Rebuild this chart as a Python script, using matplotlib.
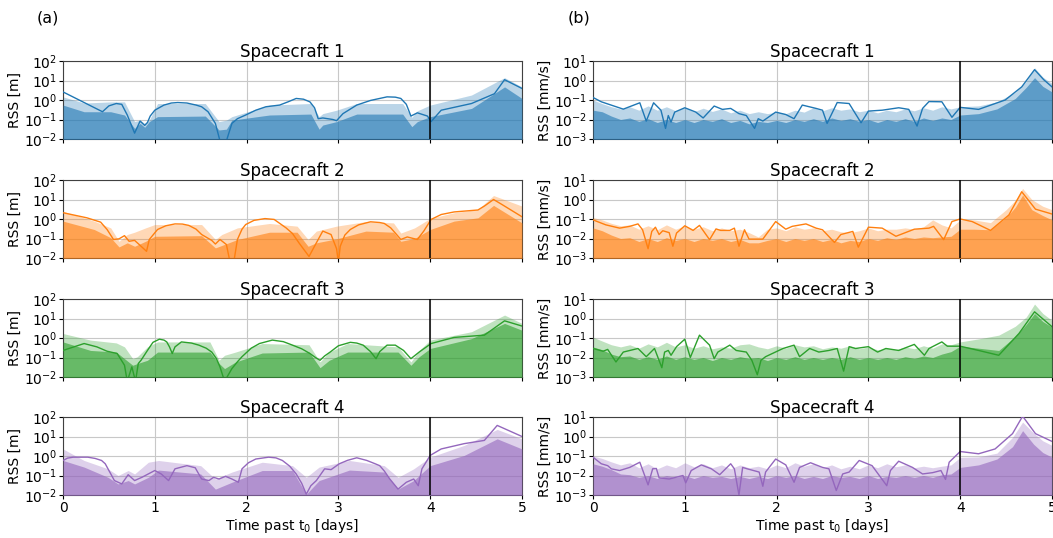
import matplotlib
matplotlib.use("Agg")
import matplotlib.pyplot as plt
from matplotlib.ticker import FixedLocator, NullLocator

colors = ["#1f77b4", "#ff7f0e", "#2ca02c", "#9467bd"]
titles = ["Spacecraft 1", "Spacecraft 2", "Spacecraft 3", "Spacecraft 4"]
x_ticks = [0, 1, 2, 3, 4, 5]
pos_ticks = [1e-2, 1e-1, 1e0, 1e1, 1e2]
vel_ticks = [1e-3, 1e-2, 1e-1, 1e0, 1e1]
t_cut = 4.0

# ---------------- position RSS [m] ----------------
pos1_t = [0, 0.43, 0.5, 0.58, 0.64, 0.7, 0.78, 0.84, 0.89, 0.92, 0.95, 1.0, 1.1, 1.18, 1.25, 1.35, 1.45,
          1.51, 1.58, 1.66, 1.71, 1.74, 1.78, 1.84, 1.9, 1.99, 2.1, 2.21, 2.36, 2.45, 2.54, 2.62, 2.69,
          2.74, 2.78, 2.83, 2.94, 2.98, 3.05, 3.2, 3.35, 3.53, 3.62, 3.68, 3.74, 3.79, 3.86, 3.97, 4.01,
          4.12, 4.45, 4.7, 4.81, 5.0]
pos1_err = [2.6, 0.25, 0.5, 0.66, 0.6, 0.17, 0.02, 0.083, 0.05, 0.07, 0.15, 0.3, 0.55, 0.7, 0.74, 0.7,
            0.55, 0.45, 0.25, 0.063, 0.008, 0.006, 0.008, 0.063, 0.11, 0.17, 0.3, 0.45, 0.55, 0.8, 1.2,
            1.1, 0.8, 0.4, 0.11, 0.12, 0.1, 0.087, 0.2, 0.55, 0.95, 1.45, 1.4, 1.2, 0.6, 0.15, 0.22, 0.15,
            0.078, 0.3, 0.66, 2.1, 11.0, 3.9]
pos1_band_t = [0, 0.23, 0.52, 0.67, 0.78, 0.84, 0.89, 0.94, 1.03, 1.55, 1.7, 1.78, 1.84, 2.25, 2.7,
               2.79, 2.83, 2.98, 3.2, 3.7, 3.8, 3.86, 4.0, 4.45, 4.81, 5.0]
pos1_sig1 = [0.55, 0.25, 0.25, 0.17, 0.035, 0.063, 0.04, 0.078, 0.14, 0.15, 0.029, 0.032, 0.093, 0.17,
             0.19, 0.032, 0.052, 0.078, 0.19, 0.19, 0.043, 0.078, 0.14, 0.37, 4.7, 1.2]
pos1_sig3 = [1.45, 0.7, 0.8, 0.8, 0.078, 0.093, 0.063, 0.093, 0.66, 0.66, 0.078, 0.093, 0.14, 0.55,
             0.66, 0.14, 0.2, 0.3, 0.66, 0.66, 0.13, 0.28, 0.55, 1.8, 14.0, 4.7]

pos2_t = [0, 0.26, 0.41, 0.48, 0.55, 0.61, 0.67, 0.72, 0.78, 0.83, 0.91, 0.94, 1.03, 1.12, 1.22, 1.3,
          1.37, 1.45, 1.51, 1.62, 1.66, 1.71, 1.78, 1.82, 1.86, 1.9, 1.95, 1.99, 2.08, 2.2, 2.3, 2.43,
          2.5, 2.57, 2.68, 2.76, 2.83, 2.92, 2.98, 3.0, 3.02, 3.07, 3.13, 3.22, 3.35, 3.45, 3.5, 3.57,
          3.62, 3.68, 3.75, 3.86, 3.93, 4.01, 4.12, 4.26, 4.52, 4.59, 4.69, 4.78, 5.0]
pos2_err = [2.1, 1.15, 0.69, 0.29, 0.089, 0.096, 0.14, 0.072, 0.08, 0.049, 0.022, 0.089, 0.29, 0.45,
            0.56, 0.55, 0.47, 0.3, 0.16, 0.08, 0.052, 0.089, 0.049, 0.006, 0.006, 0.089, 0.3, 0.52, 0.85,
            1.05, 0.95, 0.35, 0.18, 0.06, 0.012, 0.06, 0.24, 0.16, 0.03, 0.006, 0.04, 0.15, 0.29, 0.5,
            0.72, 0.66, 0.59, 0.35, 0.19, 0.089, 0.12, 0.089, 0.24, 0.95, 1.7, 2.3, 2.9, 4.6, 10.0, 5.6,
            1.3]
pos2_band_t = [0, 0.34, 0.52, 0.61, 0.7, 0.78, 0.9, 1.0, 1.51, 1.66, 1.73, 1.9, 2.25, 2.55, 2.67, 2.76,
               2.98, 3.3, 3.6, 3.68, 3.83, 4.0, 4.26, 4.52, 4.69, 5.0]
pos2_sig1 = [0.78, 0.29, 0.11, 0.037, 0.06, 0.04, 0.072, 0.13, 0.14, 0.033, 0.044, 0.089, 0.21, 0.21,
             0.04, 0.06, 0.096, 0.24, 0.21, 0.072, 0.1, 0.29, 0.78, 1.15, 5.0, 0.63]
pos2_sig3 = [2.5, 0.78, 0.35, 0.072, 0.16, 0.21, 0.35, 0.52, 0.52, 0.089, 0.16, 0.35, 0.59, 0.43, 0.089,
             0.24, 0.43, 0.74, 0.63, 0.19, 0.35, 1.07, 2.1, 3.1, 16.0, 4.6]

pos3_t = [0, 0.23, 0.37, 0.48, 0.59, 0.67, 0.7, 0.75, 0.79, 0.82, 0.85, 0.92, 0.98, 1.05, 1.1, 1.13,
          1.16, 1.19, 1.22, 1.29, 1.4, 1.48, 1.56, 1.62, 1.67, 1.71, 1.76, 1.84, 1.9, 1.95, 2.05, 2.14,
          2.28, 2.4, 2.5, 2.6, 2.69, 2.75, 2.8, 2.85, 2.91, 3.0, 3.13, 3.2, 3.27, 3.35, 3.41, 3.45, 3.53,
          3.62, 3.71, 3.79, 3.88, 4.01, 4.26, 4.59, 4.81, 5.0]
pos3_err = [0.23, 0.52, 0.35, 0.21, 0.16, 0.04, 0.006, 0.033, 0.006, 0.049, 0.072, 0.23, 0.6, 0.87, 0.78,
            0.63, 0.35, 0.16, 0.35, 0.63, 0.55, 0.43, 0.3, 0.19, 0.09, 0.033, 0.006, 0.027, 0.06, 0.11,
            0.3, 0.52, 0.78, 0.65, 0.43, 0.28, 0.16, 0.1, 0.072, 0.12, 0.19, 0.4, 0.6, 0.55, 0.43, 0.2,
            0.087, 0.2, 0.43, 0.43, 0.23, 0.087, 0.19, 0.52, 1.07, 1.4, 7.6, 4.1]
pos3_band_t = [0, 0.3, 0.58, 0.67, 0.76, 0.81, 0.92, 1.03, 1.6, 1.7, 1.76, 1.88, 2.17, 2.68, 2.8, 2.9,
               3.1, 3.65, 3.79, 3.88, 4.0, 4.45, 4.81, 5.0]
pos3_sig1 = [0.63, 0.23, 0.19, 0.087, 0.04, 0.049, 0.072, 0.19, 0.19, 0.05, 0.027, 0.059, 0.17, 0.19,
             0.03, 0.072, 0.19, 0.19, 0.04, 0.11, 0.29, 0.93, 5.6, 2.5]
pos3_sig3 = [1.7, 0.78, 0.56, 0.35, 0.087, 0.11, 0.35, 0.63, 0.63, 0.072, 0.13, 0.19, 0.52, 0.45,
             0.059, 0.19, 0.52, 0.35, 0.059, 0.23, 0.78, 2.1, 15.0, 5.6]

pos4_t = [0, 0.05, 0.11, 0.27, 0.35, 0.42, 0.46, 0.49, 0.53, 0.56, 0.64, 0.71, 0.78, 0.86, 1.0, 1.07,
          1.15, 1.22, 1.35, 1.44, 1.51, 1.59, 1.64, 1.7, 1.77, 1.84, 1.91, 1.95, 2.02, 2.1, 2.24, 2.32,
          2.39, 2.47, 2.54, 2.6, 2.65, 2.7, 2.76, 2.85, 2.92, 3.01, 3.1, 3.2, 3.31, 3.4, 3.45, 3.5, 3.56,
          3.65, 3.74, 3.82, 3.87, 3.91, 4.0, 4.12, 4.37, 4.59, 4.73, 5.0]
pos4_err = [0.59, 0.78, 0.87, 0.87, 0.75, 0.59, 0.4, 0.22, 0.1, 0.055, 0.037, 0.11, 0.055, 0.081, 0.18,
            0.12, 0.055, 0.22, 0.32, 0.25, 0.066, 0.055, 0.081, 0.066, 0.091, 0.066, 0.045, 0.22, 0.45,
            0.7, 0.87, 0.8, 0.59, 0.3, 0.12, 0.04, 0.011, 0.03, 0.055, 0.22, 0.2, 0.4, 0.6, 0.81, 0.59,
            0.4, 0.32, 0.17, 0.066, 0.02, 0.045, 0.066, 0.03, 0.22, 1.07, 2.3, 4.3, 6.3, 37.0, 10.0]
pos4_band_t = [0, 0.23, 0.49, 0.6, 0.71, 0.78, 0.93, 1.04, 1.5, 1.66, 1.84, 2.17, 2.5, 2.65, 2.79, 3.12,
               3.5, 3.65, 3.82, 4.0, 4.37, 4.73, 5.0]
pos4_sig1 = [0.59, 0.27, 0.081, 0.037, 0.055, 0.037, 0.081, 0.19, 0.12, 0.02, 0.045, 0.18, 0.18, 0.011,
             0.055, 0.19, 0.15, 0.02, 0.055, 0.32, 1.07, 7.6, 2.3]
pos4_sig3 = [2.3, 0.59, 0.22, 0.1, 0.18, 0.12, 0.48, 0.59, 0.32, 0.066, 0.15, 0.48, 0.32, 0.081, 0.27,
             0.59, 0.32, 0.081, 0.22, 0.87, 3.5, 23.0, 7.6]

# ---------------- velocity RSS [mm/s] ----------------
vel_grid = [0.0, 0.1, 0.2, 0.3, 0.4, 0.5, 0.6, 0.7, 0.8, 0.9, 1.0, 1.1, 1.2, 1.3, 1.4, 1.5, 1.6, 1.7,
            1.8, 1.9, 2.0, 2.1, 2.2, 2.3, 2.4, 2.5, 2.6, 2.7, 2.8, 2.9, 3.0, 3.1, 3.2, 3.3, 3.4, 3.5,
            3.6, 3.7, 3.8, 3.9]

vel1_t = [0, 0.09, 0.33, 0.51, 0.58, 0.66, 0.74, 0.79, 0.82, 0.85, 0.89, 1.0, 1.12, 1.2, 1.32, 1.41,
          1.5, 1.59, 1.67, 1.76, 1.8, 1.85, 1.99, 2.1, 2.19, 2.28, 2.43, 2.5, 2.55, 2.66, 2.79, 2.92,
          3.0, 3.15, 3.33, 3.44, 3.53, 3.59, 3.66, 3.8, 3.91, 4.0, 4.2, 4.49, 4.67, 4.81, 4.91, 5.0]
vel1_err = [0.135, 0.081, 0.034, 0.072, 0.0083, 0.072, 0.03, 0.0035, 0.016, 0.0074, 0.024, 0.04, 0.024,
            0.012, 0.049, 0.033, 0.037, 0.02, 0.016, 0.0035, 0.011, 0.0083, 0.024, 0.018, 0.011, 0.055,
            0.037, 0.03, 0.0063, 0.074, 0.066, 0.0068, 0.027, 0.03, 0.04, 0.033, 0.0046, 0.037, 0.083,
            0.081, 0.013, 0.042, 0.033, 0.1, 0.47, 3.6, 1.1, 0.47]
vel1_band_t = vel_grid + [4.0, 4.2, 4.4, 4.6, 4.72, 4.81, 4.9, 5.0]
vel1_sig1 = [0.03, 0.025, 0.015, 0.01, 0.012, 0.008, 0.011, 0.007, 0.01, 0.007, 0.01, 0.007, 0.01,
             0.008, 0.011, 0.007, 0.009, 0.006, 0.008, 0.007, 0.009, 0.007, 0.01, 0.008, 0.011, 0.008,
             0.012, 0.009, 0.011, 0.008, 0.01, 0.007, 0.01, 0.008, 0.011, 0.008, 0.012, 0.009, 0.012,
             0.01, 0.017, 0.02, 0.035, 0.12, 0.45, 1.4, 0.5, 0.26]
vel1_sig3 = [0.1, 0.065, 0.045, 0.035, 0.045, 0.03, 0.05, 0.03, 0.045, 0.028, 0.04, 0.025, 0.038, 0.026,
             0.035, 0.022, 0.03, 0.02, 0.025, 0.02, 0.024, 0.02, 0.03, 0.024, 0.04, 0.028, 0.04, 0.03,
             0.035, 0.025, 0.03, 0.022, 0.03, 0.025, 0.035, 0.028, 0.04, 0.03, 0.045, 0.035, 0.045,
             0.05, 0.08, 0.25, 0.9, 4.5, 1.5, 0.7]

vel2_t = [0, 0.14, 0.29, 0.4, 0.49, 0.54, 0.6, 0.64, 0.68, 0.72, 0.76, 0.83, 0.87, 0.91, 1.0, 1.09, 1.16,
          1.27, 1.34, 1.39, 1.49, 1.54, 1.59, 1.65, 1.7, 1.85, 1.99, 2.1, 2.17, 2.32, 2.43, 2.5, 2.63,
          2.7, 2.83, 2.89, 3.0, 3.15, 3.3, 3.5, 3.66, 3.71, 3.82, 3.91, 4.0, 4.13, 4.33, 4.53, 4.67,
          4.82, 5.0]
vel2_err = [0.09, 0.05, 0.034, 0.042, 0.056, 0.028, 0.003, 0.023, 0.038, 0.016, 0.025, 0.02, 0.004, 0.019,
            0.045, 0.026, 0.047, 0.0087, 0.031, 0.026, 0.026, 0.034, 0.004, 0.028, 0.0093, 0.0093, 0.074,
            0.03, 0.042, 0.056, 0.034, 0.028, 0.0063, 0.016, 0.023, 0.0036, 0.038, 0.034, 0.013, 0.03,
            0.034, 0.042, 0.0087, 0.074, 0.1, 0.074, 0.026, 0.16, 2.5, 0.32, 0.18]
vel2_band_t = vel_grid + [4.0, 4.15, 4.33, 4.5, 4.6, 4.68, 4.78, 4.9, 5.0]
vel2_sig1 = [0.035, 0.025, 0.015, 0.01, 0.011, 0.007, 0.01, 0.007, 0.011, 0.008, 0.01, 0.007, 0.01,
             0.008, 0.01, 0.007, 0.009, 0.006, 0.006, 0.008, 0.01, 0.007, 0.01, 0.008, 0.01, 0.007,
             0.009, 0.006, 0.008, 0.007, 0.01, 0.008, 0.011, 0.009, 0.012, 0.01, 0.012, 0.011, 0.012,
             0.013, 0.03, 0.03, 0.028, 0.12, 0.4, 1.7, 0.3, 0.15, 0.09]
vel2_sig3 = [0.12, 0.09, 0.06, 0.045, 0.05, 0.03, 0.045, 0.028, 0.05, 0.03, 0.045, 0.03, 0.04, 0.025,
             0.035, 0.025, 0.03, 0.02, 0.012, 0.03, 0.035, 0.025, 0.04, 0.03, 0.035, 0.025, 0.03, 0.022,
             0.02, 0.025, 0.035, 0.025, 0.03, 0.03, 0.035, 0.03, 0.04, 0.09, 0.05, 0.035, 0.09, 0.09,
             0.065, 0.3, 0.9, 3.7, 1.0, 0.45, 0.3]

vel3_t = [0, 0.11, 0.16, 0.25, 0.33, 0.49, 0.58, 0.67, 0.75, 0.78, 0.82, 0.85, 0.91, 1.0, 1.06, 1.16,
          1.27, 1.32, 1.36, 1.49, 1.56, 1.67, 1.73, 1.79, 1.83, 1.88, 2.07, 2.19, 2.25, 2.36, 2.46, 2.57,
          2.66, 2.73, 2.79, 2.86, 3.0, 3.1, 3.19, 3.33, 3.5, 3.61, 3.66, 3.8, 3.86, 4.0, 4.2, 4.42,
          4.64, 4.81, 5.0]
vel3_err = [0.029, 0.021, 0.026, 0.0059, 0.019, 0.029, 0.011, 0.029, 0.003, 0.019, 0.023, 0.013, 0.036,
            0.087, 0.01, 0.14, 0.043, 0.0087, 0.019, 0.043, 0.023, 0.019, 0.0072, 0.0013, 0.0072, 0.011,
            0.029, 0.043, 0.011, 0.029, 0.019, 0.023, 0.029, 0.002, 0.036, 0.029, 0.036, 0.019, 0.029,
            0.023, 0.047, 0.013, 0.029, 0.063, 0.038, 0.038, 0.023, 0.013, 0.17, 2.2, 0.38]
vel3_band_t = vel_grid + [4.0, 4.2, 4.42, 4.6, 4.72, 4.81, 4.9, 5.0]
vel3_sig1 = [0.035, 0.025, 0.015, 0.011, 0.012, 0.008, 0.011, 0.008, 0.012, 0.008, 0.011, 0.008, 0.01,
             0.007, 0.01, 0.008, 0.011, 0.009, 0.01, 0.007, 0.01, 0.008, 0.011, 0.008, 0.01, 0.008,
             0.01, 0.008, 0.011, 0.008, 0.01, 0.008, 0.01, 0.008, 0.011, 0.009, 0.012, 0.01, 0.015,
             0.02, 0.038, 0.03, 0.023, 0.12, 0.5, 1.8, 0.7, 0.36]
vel3_sig3 = [0.11, 0.07, 0.045, 0.035, 0.045, 0.03, 0.05, 0.035, 0.06, 0.035, 0.045, 0.03, 0.04, 0.028,
             0.035, 0.03, 0.045, 0.05, 0.035, 0.028, 0.04, 0.03, 0.045, 0.035, 0.04, 0.028, 0.035, 0.03,
             0.04, 0.028, 0.035, 0.025, 0.03, 0.025, 0.035, 0.028, 0.04, 0.03, 0.05, 0.045, 0.063, 0.09,
             0.14, 0.4, 1.2, 5.5, 1.8, 0.8]

vel4_t = [0, 0.09, 0.16, 0.2, 0.29, 0.4, 0.51, 0.6, 0.65, 0.69, 0.72, 0.83, 0.98, 1.01, 1.07, 1.18, 1.29,
          1.38, 1.5, 1.54, 1.59, 1.63, 1.68, 1.81, 1.85, 1.88, 1.99, 2.1, 2.19, 2.25, 2.37, 2.5, 2.57,
          2.65, 2.72, 2.79, 2.9, 3.04, 3.2, 3.24, 3.33, 3.48, 3.59, 3.7, 3.79, 3.84, 3.88, 4.0, 4.2,
          4.38, 4.57, 4.68, 4.82, 5.0]
vel4_err = [0.087, 0.04, 0.032, 0.022, 0.018, 0.026, 0.048, 0.0033, 0.022, 0.023, 0.0076, 0.0066, 0.01,
            0.0042, 0.018, 0.035, 0.022, 0.011, 0.04, 0.022, 0.001, 0.026, 0.022, 0.015, 0.0028, 0.015,
            0.07, 0.035, 0.0045, 0.026, 0.045, 0.026, 0.022, 0.0017, 0.012, 0.015, 0.059, 0.032, 0.003,
            0.018, 0.054, 0.026, 0.012, 0.014, 0.018, 0.0063, 0.048, 0.17, 0.13, 0.23, 1.4, 11.0, 1.4,
            0.56]
vel4_band_t = vel_grid + [4.0, 4.2, 4.4, 4.57, 4.68, 4.8, 4.9, 5.0]
vel4_sig1 = [0.04, 0.03, 0.02, 0.012, 0.011, 0.008, 0.01, 0.007, 0.01, 0.008, 0.01, 0.007, 0.01, 0.008,
             0.009, 0.007, 0.009, 0.007, 0.009, 0.007, 0.01, 0.008, 0.01, 0.007, 0.009, 0.007, 0.01,
             0.008, 0.009, 0.007, 0.01, 0.007, 0.009, 0.008, 0.01, 0.008, 0.01, 0.008, 0.011, 0.012,
             0.026, 0.035, 0.07, 0.3, 2.0, 0.4, 0.15, 0.087]
vel4_sig3 = [0.1, 0.075, 0.05, 0.035, 0.045, 0.025, 0.04, 0.022, 0.035, 0.025, 0.045, 0.028, 0.04, 0.025,
             0.035, 0.022, 0.035, 0.025, 0.03, 0.022, 0.035, 0.025, 0.045, 0.03, 0.04, 0.025, 0.035,
             0.022, 0.03, 0.022, 0.035, 0.025, 0.04, 0.028, 0.035, 0.025, 0.03, 0.025, 0.03, 0.035,
             0.085, 0.09, 0.14, 0.9, 5.5, 1.5, 0.6, 0.35]

pos_panels = [
    (pos1_t, pos1_err, pos1_band_t, pos1_sig1, pos1_sig3),
    (pos2_t, pos2_err, pos2_band_t, pos2_sig1, pos2_sig3),
    (pos3_t, pos3_err, pos3_band_t, pos3_sig1, pos3_sig3),
    (pos4_t, pos4_err, pos4_band_t, pos4_sig1, pos4_sig3),
]
vel_panels = [
    (vel1_t, vel1_err, vel1_band_t, vel1_sig1, vel1_sig3),
    (vel2_t, vel2_err, vel2_band_t, vel2_sig1, vel2_sig3),
    (vel3_t, vel3_err, vel3_band_t, vel3_sig1, vel3_sig3),
    (vel4_t, vel4_err, vel4_band_t, vel4_sig1, vel4_sig3),
]

plt.rcParams["font.family"] = "DejaVu Sans"

W, H = 1053, 538
fig = plt.figure(figsize=(W / 100, H / 100), dpi=100)

col_left = [63, 593]
ax_w = 459
row_top = [61, 180, 299, 417]
ax_h = 78

FS_TITLE = 12
FS_TICK = 10
FS_YLAB = 10
FS_XLAB = 10


def draw_panel(ax, data, color, title, ylabel, ylim, yticks, bottom):
    t, err, bt, s1, s3 = data
    floor = ylim[0] * 1e-3
    ax.fill_between(bt, floor, s3, color=color, alpha=0.3, linewidth=0, zorder=2)
    ax.fill_between(bt, floor, s1, color=color, alpha=0.6, linewidth=0, zorder=3)
    ax.plot(t, err, color=color, linewidth=1.0, zorder=4)
    ax.axvline(t_cut, color="black", linewidth=1.1, zorder=5)
    ax.set_yscale("log")
    ax.set_ylim(*ylim)
    ax.set_xlim(0, 5)
    ax.yaxis.set_major_locator(FixedLocator(yticks))
    ax.yaxis.set_minor_locator(NullLocator())
    ax.set_xticks(x_ticks)
    ax.grid(True, color="#c8c8c8", linewidth=0.8, zorder=0)
    ax.set_axisbelow(True)
    ax.set_title(title, fontsize=FS_TITLE, pad=3)
    ax.set_ylabel(ylabel, fontsize=FS_YLAB)
    ax.yaxis.set_label_coords(-0.089, 0.5)
    ax.tick_params(labelsize=FS_TICK, length=3, pad=1.2)
    for s in ax.spines.values():
        s.set_color("#404040")
        s.set_linewidth(0.8)
    if bottom:
        ax.set_xlabel("Time past t$_0$ [days]", fontsize=FS_XLAB, labelpad=1.5)
    else:
        ax.tick_params(labelbottom=False)


for r in range(4):
    for c in range(2):
        x0 = col_left[c] / W
        y0 = 1 - (row_top[r] + ax_h) / H
        ax = fig.add_axes([x0, y0, ax_w / W, ax_h / H])
        if c == 0:
            draw_panel(ax, pos_panels[r], colors[r], titles[r], "RSS [m]",
                       (1e-2, 1e2), pos_ticks, r == 3)
        else:
            draw_panel(ax, vel_panels[r], colors[r], titles[r], "RSS [mm/s]",
                       (1e-3, 1e1), vel_ticks, r == 3)

fig.text(48 / W, 1 - 18 / H, "(a)", fontsize=11.5, ha="center", va="center")
fig.text(579 / W, 1 - 18 / H, "(b)", fontsize=11.5, ha="center", va="center")

fig.savefig("out.png", dpi=100)
